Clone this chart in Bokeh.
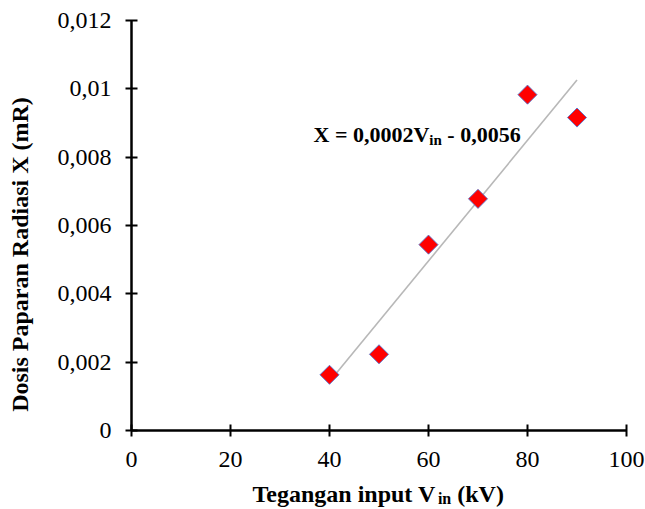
import numpy as np
from bokeh.plotting import figure
from bokeh.models import (Range1d, FixedTicker, CustomJSTickFormatter, Label,
                          ColumnDataSource)
from bokeh.embed import file_html
from bokeh.resources import INLINE

# ---- data ----
vin = [40, 50, 60, 70, 80, 90]
dose = [0.00163, 0.00223, 0.00544, 0.00678, 0.00983, 0.00916]
x_ticks = [0, 20, 40, 60, 80, 100]
y_ticks = [0, 0.002, 0.004, 0.006, 0.008, 0.010, 0.012]
x_title_main = "Tegangan input V"
x_title_sub = "in"
x_title_tail = "(kV)"
y_title = "Dosis Paparan Radiasi X (mR)"
eq_main = "X = 0,0002V"
eq_sub = "in"
eq_tail = "- 0,0056"

SERIF = "Liberation Serif"
W, H = 645, 509
# frame of the data area in page pixels
FL, FR, FT, FB = 131, 626, 20, 430
XMIN, XMAX = 0, 100
YMIN, YMAX = 0, 0.012
kx = (FR - FL) / (XMAX - XMIN)
ky = (FB - FT) / (YMAX - YMIN)

p = figure(width=W, height=H, output_backend="svg", toolbar_location=None,
           x_range=Range1d(XMIN - FL / kx, XMAX + (W - FR) / kx),
           y_range=Range1d(YMIN - (H - FB) / ky, YMAX + FT / ky),
           min_border=0, title=None)
p.outline_line_color = None
p.xgrid.visible = False
p.ygrid.visible = False
p.background_fill_color = "white"
p.border_fill_color = "white"

xa, ya = p.xaxis[0], p.yaxis[0]
xa.fixed_location = YMIN
ya.fixed_location = XMIN
xa.bounds = (XMIN, XMAX)
ya.bounds = (YMIN, YMAX)
for ax in (xa, ya):
    ax.axis_line_width = 2.5
    ax.axis_line_color = "black"
    ax.major_tick_line_width = 2
    ax.major_tick_line_color = "black"
    ax.major_tick_in = 6
    ax.major_tick_out = 6
    ax.minor_tick_line_color = None
    ax.major_label_text_font = SERIF
    ax.major_label_text_font_size = "24px"
    ax.major_label_text_color = "black"

xa.ticker = FixedTicker(ticks=x_ticks)
ya.ticker = FixedTicker(ticks=y_ticks)
xa.major_label_standoff = 15
ya.major_label_standoff = 14
ya.formatter = CustomJSTickFormatter(code="""
let s = tick.toFixed(3).replace(/0+$/, '').replace(/\\.$/, '');
return s.replace('.', ',');
""")

# trend line (least squares fit of the data)
slope, icpt = np.polyfit(vin, dose, 1)
xs = [min(vin), max(vin)]
p.line(xs, [slope * v + icpt for v in xs], line_color="#b8b8b8", line_width=1.6)

src = ColumnDataSource(dict(x=vin, y=dose))
p.scatter("x", "y", source=src, marker="square", angle=np.pi / 4, size=13.5,
          fill_color="#ff0000", line_color="#5577d0", line_width=0.9)

# pixel -> data helpers for text placement
def dx(px):
    return XMIN + (px - FL) / kx

def dy(py):
    return YMIN + (FB - py) / ky

def lab(px, py, text, size, **kw):
    p.add_layout(Label(x=dx(px), y=dy(py), text=text, text_font=SERIF,
                       text_font_style="bold", text_font_size=f"{size}px",
                       text_baseline="alphabetic", text_color="black", **kw))

# y-axis title
lab(19, 254, y_title, 24, angle=np.pi / 2, text_align="center")

# x-axis title with subscript
x0 = 252
w_main = 7.724 * 24
w_sub = 0.834 * 16
lab(x0, 493, x_title_main, 24, text_align="left")
lab(x0 + w_main, 498, x_title_sub, 16, text_align="left")
lab(x0 + w_main + w_sub + 0.25 * 24, 493, x_title_tail, 24, text_align="left")

# equation
e0 = 313
e_main = 5.264 * 22
e_sub = 0.834 * 15
lab(e0, 134, eq_main, 22, text_align="left")
lab(e0 + e_main, 139, eq_sub, 15, text_align="left")
lab(e0 + e_main + e_sub + 0.25 * 22, 134, eq_tail, 22, text_align="left")

open("out.html", "w").write(file_html(p, INLINE))
